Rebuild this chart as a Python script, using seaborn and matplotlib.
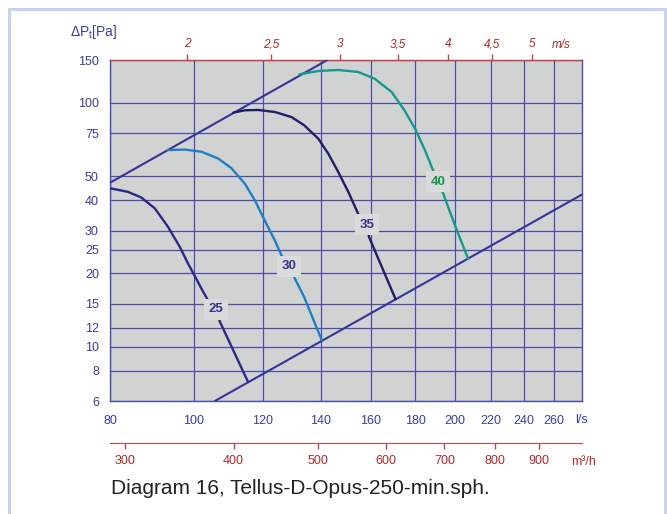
import numpy as np
import pandas as pd
import matplotlib
matplotlib.use("Agg")
import matplotlib.pyplot as plt
import matplotlib.patches as mpatches
from matplotlib.ticker import FixedLocator, FixedFormatter, NullLocator
import seaborn as sns

# ---- data: fan curves (flow in l/s, total pressure in Pa) ----
curve_names = ["25", "30", "35", "40"]
flow_25 = [80, 83.9, 86.9, 90.1, 93.3, 96.3, 98.4, 100.3, 102.2, 103.8, 105.9, 107.1, 115.4]
pres_25 = [44.7, 43.2, 41.0, 37.0, 31.1, 25.7, 22.0, 19.4, 17.1, 15.5, 14.25, 12.7, 7.2]
flow_30 = [93.2, 97.6, 102.0, 106.6, 110.4, 114.4, 117.5, 120.6, 123.9, 126.1, 128.7,
           130.7, 134.0, 140.4]
pres_30 = [64.1, 64.4, 63.1, 59.2, 54.1, 46.8, 40.0, 33.1, 27.4, 23.8, 21.4,
           19.1, 16.0, 10.66]
flow_35 = [111.0, 114.5, 118.6, 124.0, 129.6, 134.0, 139.1, 142.8, 146.7, 150.7, 155.3,
           158.3, 159.2, 170.8]
pres_35 = [91.3, 93.3, 93.6, 91.8, 87.5, 81.0, 71.4, 62.1, 52.1, 43.1, 34.0,
           31.7, 28.2, 15.7]
flow_40 = [132.3, 139.1, 146.7, 154.6, 161.6, 169.0, 174.9, 179.9, 184.7, 188.8, 191.3,
           193.9, 197.4, 201.0, 207.1]
pres_40 = [131.0, 135.2, 136.5, 134.0, 125.7, 111.0, 93.3, 78.4, 63.9, 52.7, 47.6,
           42.4, 35.7, 30.1, 23.0]

# label anchor points on each curve
label_flow = [105.9, 128.7, 158.3, 191.3]
label_pres = [14.25, 21.4, 31.7, 47.6]

# ---- data: system (limit) lines ----
upper_flow = [80, 142.5]
upper_pres = [47.1, 150.0]
lower_flow = [105.7, 280.5]
lower_pres = [6.0, 42.2]

# ---- axis ticks ----
flow_ticks = [80, 100, 120, 140, 160, 180, 200, 220, 240, 260]
pres_ticks = [6, 8, 10, 12, 15, 20, 25, 30, 40, 50, 75, 100, 150]
vel_ticks = [2, 2.5, 3, 3.5, 4, 4.5, 5]
vel_labels = ["2", "2,5", "3", "3,5", "4", "4,5", "5"]
m3h_ticks = [300, 400, 500, 600, 700, 800, 900]
duct_diameter = 0.250  # m

# ---- styles ----
sns.set_style("white")
plt.rcParams["font.family"] = ["Liberation Sans", "DejaVu Sans"]
plt.rcParams["mathtext.fontset"] = "custom"
plt.rcParams["mathtext.rm"] = "Liberation Sans"
plt.rcParams["mathtext.it"] = "Liberation Sans:italic"
plt.rcParams["lines.solid_joinstyle"] = "round"
plt.rcParams["lines.solid_capstyle"] = "round"

BLUE = "#3b3b9e"
GRID = "#4d4daa"
RED = "#c04848"
REDTXT = "#b02828"
BG = "#d1d2d2"
palette = {"25": "#2a2a86", "30": "#1f7fc6", "35": "#1f1f68", "40": "#14998c"}
label_colors = {"25": "#35358f", "30": "#35358f", "35": "#35358f", "40": "#12954a"}

fig = plt.figure(figsize=(6.67, 5.14), dpi=100)
W, H = 667, 514
ax = fig.add_axes([110 / W, 1 - 401 / H, (582.3 - 110) / W, (401 - 60) / H])
ax.set_facecolor(BG)

# long-form table for the fan curves
frames = []
for name, fq, fp in zip(curve_names, [flow_25, flow_30, flow_35, flow_40],
                        [pres_25, pres_30, pres_35, pres_40]):
    frames.append(pd.DataFrame({"flow": fq, "pressure": fp, "curve": name}))
curves = pd.concat(frames, ignore_index=True)

sys_lines = pd.concat([
    pd.DataFrame({"flow": upper_flow, "pressure": upper_pres, "line": "upper"}),
    pd.DataFrame({"flow": lower_flow, "pressure": lower_pres, "line": "lower"}),
], ignore_index=True)

ax.set_xscale("log")
ax.set_yscale("log")

sns.lineplot(data=sys_lines, x="flow", y="pressure", units="line", estimator=None,
             color="#34349a", lw=1.5, sort=False, ax=ax, zorder=3)
sns.lineplot(data=curves, x="flow", y="pressure", hue="curve", palette=palette,
             units="curve", estimator=None, sort=False, lw=1.7, legend=False,
             ax=ax, zorder=4)

for name, lq, lp in zip(curve_names, label_flow, label_pres):
    ax.text(lq, lp, name, color=label_colors[name], fontsize=9.5, fontweight="bold",
            ha="center", va="center", zorder=6,
            bbox=dict(boxstyle="square,pad=0.35", fc="#d9dada", ec="none"))

ax.set_xlim(80, 280.5)
ax.set_ylim(6, 150)

# main axes ticks and grid
ax.xaxis.set_major_locator(FixedLocator(flow_ticks))
ax.xaxis.set_major_formatter(FixedFormatter([str(t) for t in flow_ticks]))
ax.xaxis.set_minor_locator(NullLocator())
ax.yaxis.set_major_locator(FixedLocator(pres_ticks))
ax.yaxis.set_major_formatter(FixedFormatter([str(t) for t in pres_ticks]))
ax.yaxis.set_minor_locator(NullLocator())
ax.grid(True, which="major", color=GRID, lw=0.9, zorder=1)
ax.set_axisbelow(True)
ax.tick_params(axis="both", which="major", direction="out", length=4, width=1,
               color=BLUE, labelcolor=BLUE, labelsize=9)
ax.tick_params(axis="x", pad=6)
ax.tick_params(axis="y", pad=4)
ax.tick_params(top=False, right=False)
ax.set_xlabel("")
ax.set_ylabel("")
for side in ["left", "right", "bottom"]:
    ax.spines[side].set_color(GRID)
    ax.spines[side].set_linewidth(1.0)
    ax.spines[side].set_visible(True)
ax.spines["top"].set_color(RED)
ax.spines["top"].set_linewidth(1.0)
ax.spines["top"].set_visible(True)

# velocity axis on top (m/s)
area = np.pi * (duct_diameter / 2) ** 2


def ls_to_ms(q):
    return np.asarray(q, dtype=float) / 1000.0 / area


def ms_to_ls(v):
    return np.asarray(v, dtype=float) * 1000.0 * area


top = ax.secondary_xaxis("top", functions=(ls_to_ms, ms_to_ls))
top.xaxis.set_major_locator(FixedLocator(vel_ticks))
top.xaxis.set_major_formatter(FixedFormatter(vel_labels))
top.xaxis.set_minor_locator(NullLocator())
top.tick_params(direction="out", length=4, width=1, color=RED, labelcolor=REDTXT,
                labelsize=8.5, pad=3)
for lbl in top.get_xticklabels():
    lbl.set_fontstyle("italic")
top.spines["top"].set_color(RED)


# volume flow axis below (m³/h)
def ls_to_m3h(q):
    return np.asarray(q, dtype=float) * 3.6


def m3h_to_ls(m):
    return np.asarray(m, dtype=float) / 3.6


bot = ax.secondary_xaxis(-(443 - 401) / (401 - 60), functions=(ls_to_m3h, m3h_to_ls))
bot.xaxis.set_major_locator(FixedLocator(m3h_ticks))
bot.xaxis.set_major_formatter(FixedFormatter([str(t) for t in m3h_ticks]))
bot.xaxis.set_minor_locator(NullLocator())
bot.tick_params(direction="out", length=4, width=1, color=RED, labelcolor=REDTXT,
                labelsize=9, pad=5)
bot.spines["bottom"].set_color(RED)

# unit labels
fig.text(575 / W, 1 - 420 / H, "l/s", color=BLUE, fontsize=9, va="center", ha="left")
fig.text(571 / W, 1 - 462 / H, "m³/h", color=REDTXT, fontsize=9, va="center", ha="left")
fig.text(552 / W, 1 - 45 / H, "m/s", color=REDTXT, fontsize=8.5, va="center",
         ha="left", style="italic")
fig.text(70 / W, 1 - 32 / H, "ΔP$_{\\rm t}$[Pa]", color=BLUE, fontsize=10,
         va="center", ha="left")

# caption
fig.text(111 / W, 1 - 489 / H, "Diagram 16, Tellus-D-Opus-250-min.sph.",
         color="#222222", fontsize=15, va="center", ha="left")

# outer frame
frame = mpatches.Rectangle((9 / W, -0.05), (665 - 9) / W, 1.05 - 9 / H,
                           transform=fig.transFigure, fill=False,
                           ec="#c6d3ef", lw=2.2, zorder=0)
fig.patches.append(frame)

fig.savefig("out.png", dpi=100)
